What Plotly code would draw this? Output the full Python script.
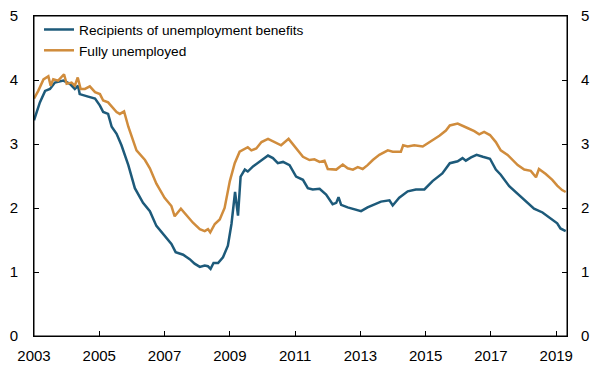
import plotly.graph_objects as go

# Recipients of unemployment benefits (decimal year, per cent)
benefit_years = [2003.0, 2003.18, 2003.34, 2003.49, 2003.64, 2003.9, 2004.1, 2004.25, 2004.35, 2004.4,
                 2004.66, 2004.87, 2005.02, 2005.12, 2005.27, 2005.38, 2005.53, 2005.68, 2005.89, 2006.09,
                 2006.34, 2006.55, 2006.75, 2007.0, 2007.21, 2007.34, 2007.57, 2007.77, 2007.92, 2008.08,
                 2008.23, 2008.33, 2008.41, 2008.5, 2008.64, 2008.79, 2008.94, 2009.05, 2009.16, 2009.25,
                 2009.33, 2009.46, 2009.55, 2009.71, 2009.91, 2010.17, 2010.32, 2010.47, 2010.63, 2010.83,
                 2011.03, 2011.24, 2011.39, 2011.54, 2011.75, 2011.95, 2012.15, 2012.26, 2012.33, 2012.41,
                 2012.61, 2012.82, 2013.02, 2013.22, 2013.43, 2013.63, 2013.89, 2013.99, 2014.19, 2014.45,
                 2014.7, 2014.96, 2015.21, 2015.51, 2015.74, 2015.98, 2016.13, 2016.23, 2016.39, 2016.56,
                 2016.75, 2016.97, 2017.15, 2017.3, 2017.56, 2017.82, 2018.07, 2018.32, 2018.58, 2018.83,
                 2019.03, 2019.13, 2019.29]
benefit_values = [3.37, 3.65, 3.83, 3.86, 3.96, 3.99, 3.94, 3.86, 3.91, 3.78,
                  3.74, 3.71, 3.6, 3.5, 3.47, 3.27, 3.16, 2.98, 2.67, 2.31,
                  2.08, 1.95, 1.72, 1.57, 1.44, 1.31, 1.27, 1.2, 1.13, 1.08,
                  1.1, 1.09, 1.05, 1.14, 1.14, 1.23, 1.41, 1.75, 2.25, 1.88,
                  2.49, 2.6, 2.57, 2.65, 2.72, 2.82, 2.78, 2.7, 2.72, 2.67,
                  2.49, 2.44, 2.31, 2.29, 2.3, 2.21, 2.06, 2.08, 2.17, 2.05,
                  2.01, 1.98, 1.95, 2.01, 2.06, 2.1, 2.12, 2.04, 2.16, 2.26,
                  2.29, 2.29, 2.42, 2.54, 2.7, 2.73, 2.78, 2.74, 2.79, 2.83,
                  2.8, 2.77, 2.6, 2.52, 2.34, 2.22, 2.1, 1.99, 1.93, 1.84,
                  1.76, 1.68, 1.64]

# Fully unemployed (decimal year, per cent)
unemployed_years = [2003.0, 2003.13, 2003.29, 2003.44, 2003.51, 2003.59, 2003.74, 2003.92, 2004.0, 2004.15,
                    2004.25, 2004.34, 2004.43, 2004.56, 2004.71, 2004.87, 2005.02, 2005.12, 2005.27, 2005.53,
                    2005.63, 2005.76, 2005.89, 2006.14, 2006.4, 2006.55, 2006.75, 2007.0, 2007.21, 2007.31,
                    2007.5, 2007.67, 2007.87, 2008.08, 2008.23, 2008.33, 2008.4, 2008.54, 2008.69, 2008.84,
                    2009.0, 2009.15, 2009.3, 2009.55, 2009.66, 2009.81, 2009.97, 2010.17, 2010.37, 2010.57,
                    2010.8, 2010.98, 2011.24, 2011.44, 2011.59, 2011.75, 2011.9, 2012.0, 2012.26, 2012.46,
                    2012.61, 2012.77, 2012.92, 2013.07, 2013.22, 2013.38, 2013.58, 2013.84, 2013.99, 2014.24,
                    2014.31, 2014.45, 2014.65, 2014.91, 2015.16, 2015.42, 2015.62, 2015.74, 2015.98, 2016.13,
                    2016.28, 2016.49, 2016.64, 2016.79, 2016.97, 2017.15, 2017.3, 2017.51, 2017.66, 2017.82,
                    2018.02, 2018.22, 2018.38, 2018.47, 2018.68, 2018.88, 2019.03, 2019.18, 2019.29]
unemployed_values = [3.71, 3.83, 4.01, 4.06, 3.91, 4.01, 3.99, 4.09, 3.94, 3.96,
                     3.91, 4.04, 3.86, 3.86, 3.9, 3.81, 3.78, 3.68, 3.65, 3.5,
                     3.47, 3.51, 3.27, 2.9, 2.75, 2.62, 2.38, 2.16, 2.03, 1.87,
                     1.99, 1.89, 1.77, 1.67, 1.64, 1.67, 1.62, 1.75, 1.82, 2.0,
                     2.42, 2.7, 2.88, 2.95, 2.9, 2.93, 3.03, 3.08, 3.03, 2.98,
                     3.08, 2.97, 2.8, 2.75, 2.76, 2.72, 2.74, 2.61, 2.6, 2.68,
                     2.62, 2.6, 2.64, 2.61, 2.67, 2.75, 2.83, 2.9, 2.88, 2.88,
                     2.98, 2.96, 2.98, 2.96, 3.04, 3.13, 3.21, 3.29, 3.32, 3.29,
                     3.25, 3.2, 3.15, 3.19, 3.14, 3.03, 2.9, 2.83, 2.75, 2.67,
                     2.6, 2.58, 2.48, 2.61, 2.53, 2.44, 2.35, 2.28, 2.25]

x_ticks = [2003, 2005, 2007, 2009, 2011, 2013, 2015, 2017, 2019]
y_ticks = [0, 1, 2, 3, 4, 5]

BLUE = "#1d5a7a"
ORANGE = "#d08c3c"
FONT = "Liberation Sans, Arial, sans-serif"

fig = go.Figure()
fig.add_trace(go.Scatter(x=benefit_years, y=benefit_values, mode="lines",
                         name="Recipients of unemployment benefits",
                         line=dict(color=BLUE, width=2.5)))
fig.add_trace(go.Scatter(x=unemployed_years, y=unemployed_values, mode="lines",
                         name="Fully unemployed",
                         line=dict(color=ORANGE, width=2.5)))
# invisible trace to carry the right-hand axis
fig.add_trace(go.Scatter(x=[x_ticks[0]], y=[y_ticks[0]], yaxis="y2", mode="markers",
                         marker=dict(opacity=0), showlegend=False, hoverinfo="skip"))

axis_common = dict(showgrid=False, zeroline=False, showline=True, linecolor="black",
                   linewidth=1, ticks="inside", ticklen=5, tickcolor="black", automargin=False,
                   tickfont=dict(family=FONT, size=15, color="black"))

fig.update_layout(
    width=592, height=367,
    margin=dict(l=34, r=25, t=16, b=31, autoexpand=False),
    paper_bgcolor="white", plot_bgcolor="white",
    font=dict(family=FONT, size=13.7, color="black"),
    showlegend=True,
    legend=dict(x=0.0094, y=1.006, xanchor="left", yanchor="top",
                bgcolor="rgba(0,0,0,0)", font=dict(family=FONT, size=13.7),
                tracegroupgap=0, itemwidth=30),
    xaxis=dict(range=[2003, 2019.33], tickvals=x_ticks, ticktext=[str(v) for v in x_ticks],
               mirror=True, ticklabelstandoff=6, **axis_common),
    yaxis=dict(range=[0, 5], tickvals=y_ticks, ticklabelstandoff=12, **axis_common),
    yaxis2=dict(range=[0, 5], tickvals=y_ticks, overlaying="y", side="right",
                ticklabelstandoff=10, **axis_common),
    shapes=[dict(type="rect", xref="paper", yref="paper", x0=0, x1=1, y0=0, y1=1,
                 line=dict(color="black", width=1), layer="above")],
)

fig.write_html("out.html", config={"displayModeBar": False},
               post_script="document.body.style.margin='0';document.body.style.overflow='hidden';")
